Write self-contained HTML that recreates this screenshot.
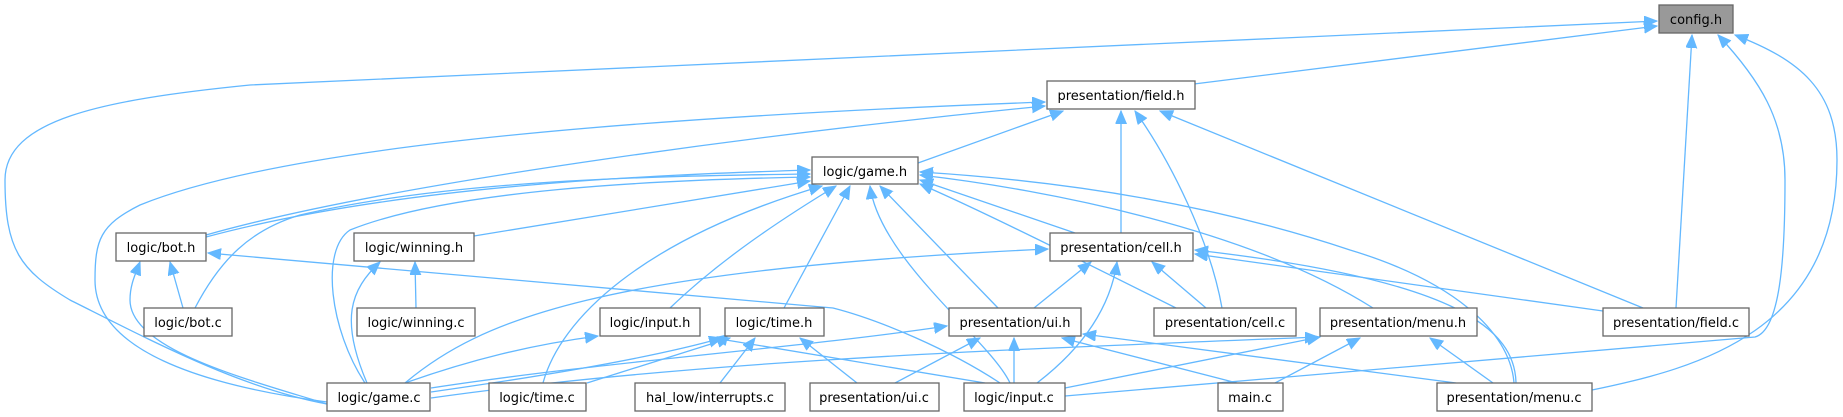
<!DOCTYPE html>
<html><head><meta charset="utf-8"><style>
html,body{margin:0;padding:0;background:#fff;}
svg{display:block;}
text{font-family:"DejaVu Sans","Liberation Sans",sans-serif;font-size:13px;fill:#000;text-anchor:middle;}
.e{fill:none;stroke:#63b8ff;stroke-width:1.3;}
.n{fill:#fff;stroke:#666;stroke-width:1.3;}
</style></head><body>
<svg width="1843" height="417" viewBox="0 0 1843 417" xmlns="http://www.w3.org/2000/svg">
<defs>
<marker id="a" markerUnits="userSpaceOnUse" markerWidth="14" markerHeight="12" refX="13" refY="5.5" orient="auto">
<path d="M0,0 L13,5.5 L0,11 Z" fill="#63b8ff" stroke="#63b8ff"/>
</marker>
</defs>
<g class="e" marker-end="url(#a)">
<!-- config.h -->
<path d="M327,404 C240,388 150,340 70,300 C20,270 5,250 5,180 C5,120 100,100 250,85 L1657,21"/>
<path d="M1194,84 L1657,26"/>
<path d="M1676,308 L1692,35"/>
<path d="M1065,396 L1755,337 C1780,330 1785,260 1785,180 C1785,120 1760,80 1718,35"/>
<path d="M1592,390 C1700,368 1837,330 1837,160 C1837,90 1800,60 1735,35"/>
<!-- field.h -->
<path d="M918,163 L1063,111"/>
<path d="M1121,233 L1121,111"/>
<path d="M1222,308 C1210,240 1170,160 1135,111"/>
<path d="M1643,308 L1160,111"/>
<path d="M327,402 C200,385 95,350 95,280 C95,240 100,225 140,205 C300,140 700,115 1045,102"/>
<path d="M206,235 C400,180 800,130 1045,106"/>
<!-- game.h -->
<path d="M206,237 C400,185 650,175 810,170"/>
<path d="M195,308 C220,260 250,230 300,215 C450,180 650,176 810,174"/>
<path d="M365,383 C330,330 320,250 350,230 C450,190 650,180 810,177"/>
<path d="M474,236 L810,181"/>
<path d="M670,308 C720,260 780,220 836,186"/>
<path d="M784,308 L850,186"/>
<path d="M543,383 C560,320 640,240 822,186"/>
<path d="M1010,383 C990,340 880,260 870,186"/>
<path d="M998,308 L880,186"/>
<path d="M1075,233 L920,180"/>
<path d="M1176,308 C1080,260 980,210 920,184"/>
<path d="M1373,308 C1250,230 1050,190 920,175"/>
<path d="M1514,383 C1510,330 1450,280 1350,250 C1200,200 1050,180 920,172"/>
<!-- bot.h -->
<path d="M183,308 L170,262"/>
<path d="M327,404 C250,380 130,350 130,300 C130,285 135,275 140,262"/>
<path d="M1000,383 C950,350 880,320 833,308 L208,253"/>
<!-- winning.h -->
<path d="M416,308 L415,262"/>
<path d="M367,383 C340,320 350,290 380,262"/>
<!-- input.h / time.h -->
<path d="M405,383 C470,360 530,345 598,336"/>
<path d="M985,383 L714,338"/>
<path d="M431,392 C600,368 680,350 722,338"/>
<path d="M587,383 L730,338"/>
<path d="M720,383 L755,338"/>
<path d="M857,383 L800,338"/>
<!-- cell.h -->
<path d="M405,383 C480,320 600,270 1048,249"/>
<path d="M1034,308 L1091,262"/>
<path d="M1206,308 L1152,262"/>
<path d="M1603,311 L1195,254"/>
<path d="M1516,383 C1515,330 1460,280 1195,250"/>
<path d="M1037,383 C1080,350 1110,310 1117,262"/>
<!-- ui.h -->
<path d="M431,388 C600,362 800,348 947,326"/>
<path d="M895,383 L980,338"/>
<path d="M1014,383 L1014,338"/>
<path d="M1237,383 L1062,338"/>
<path d="M1456,383 L1083,334"/>
<!-- menu.h -->
<path d="M431,398 C700,360 1000,350 1318,337"/>
<path d="M1065,388 L1320,337"/>
<path d="M1275,383 L1360,338"/>
<path d="M1493,383 L1430,338"/>
</g>
<g>
<rect x="1659" y="5" width="74" height="28" fill="#999" stroke="#666" stroke-width="1.3"/><text x="1696" y="24">config.h</text>
<rect class="n" x="1047" y="81" width="148" height="28"/><text x="1121" y="100">presentation/field.h</text>
<rect class="n" x="812" y="157" width="106" height="27"/><text x="865" y="176">logic/game.h</text>
<rect class="n" x="116" y="233" width="90" height="28"/><text x="161" y="252">logic/bot.h</text>
<rect class="n" x="354" y="233" width="120" height="28"/><text x="414" y="252">logic/winning.h</text>
<rect class="n" x="1050" y="233" width="143" height="28"/><text x="1121" y="252">presentation/cell.h</text>
<rect class="n" x="144" y="308" width="88" height="28"/><text x="188" y="327">logic/bot.c</text>
<rect class="n" x="357" y="308" width="118" height="28"/><text x="416" y="327">logic/winning.c</text>
<rect class="n" x="600" y="308" width="100" height="28"/><text x="650" y="327">logic/input.h</text>
<rect class="n" x="725" y="308" width="99" height="28"/><text x="774" y="327">logic/time.h</text>
<rect class="n" x="949" y="308" width="132" height="28"/><text x="1015" y="327">presentation/ui.h</text>
<rect class="n" x="1154" y="308" width="142" height="28"/><text x="1225" y="327">presentation/cell.c</text>
<rect class="n" x="1320" y="308" width="157" height="28"/><text x="1398" y="327">presentation/menu.h</text>
<rect class="n" x="1603" y="308" width="146" height="28"/><text x="1676" y="327">presentation/field.c</text>
<rect class="n" x="327" y="383" width="103" height="28"/><text x="379" y="402">logic/game.c</text>
<rect class="n" x="489" y="383" width="97" height="28"/><text x="537" y="402">logic/time.c</text>
<rect class="n" x="635" y="383" width="150" height="28"/><text x="710" y="402">hal_low/interrupts.c</text>
<rect class="n" x="810" y="383" width="129" height="28"/><text x="874" y="402">presentation/ui.c</text>
<rect class="n" x="964" y="383" width="101" height="28"/><text x="1014" y="402">logic/input.c</text>
<rect class="n" x="1218" y="383" width="65" height="28"/><text x="1250" y="402">main.c</text>
<rect class="n" x="1437" y="383" width="155" height="28"/><text x="1514" y="402">presentation/menu.c</text>
</g>
</svg>
</body></html>
